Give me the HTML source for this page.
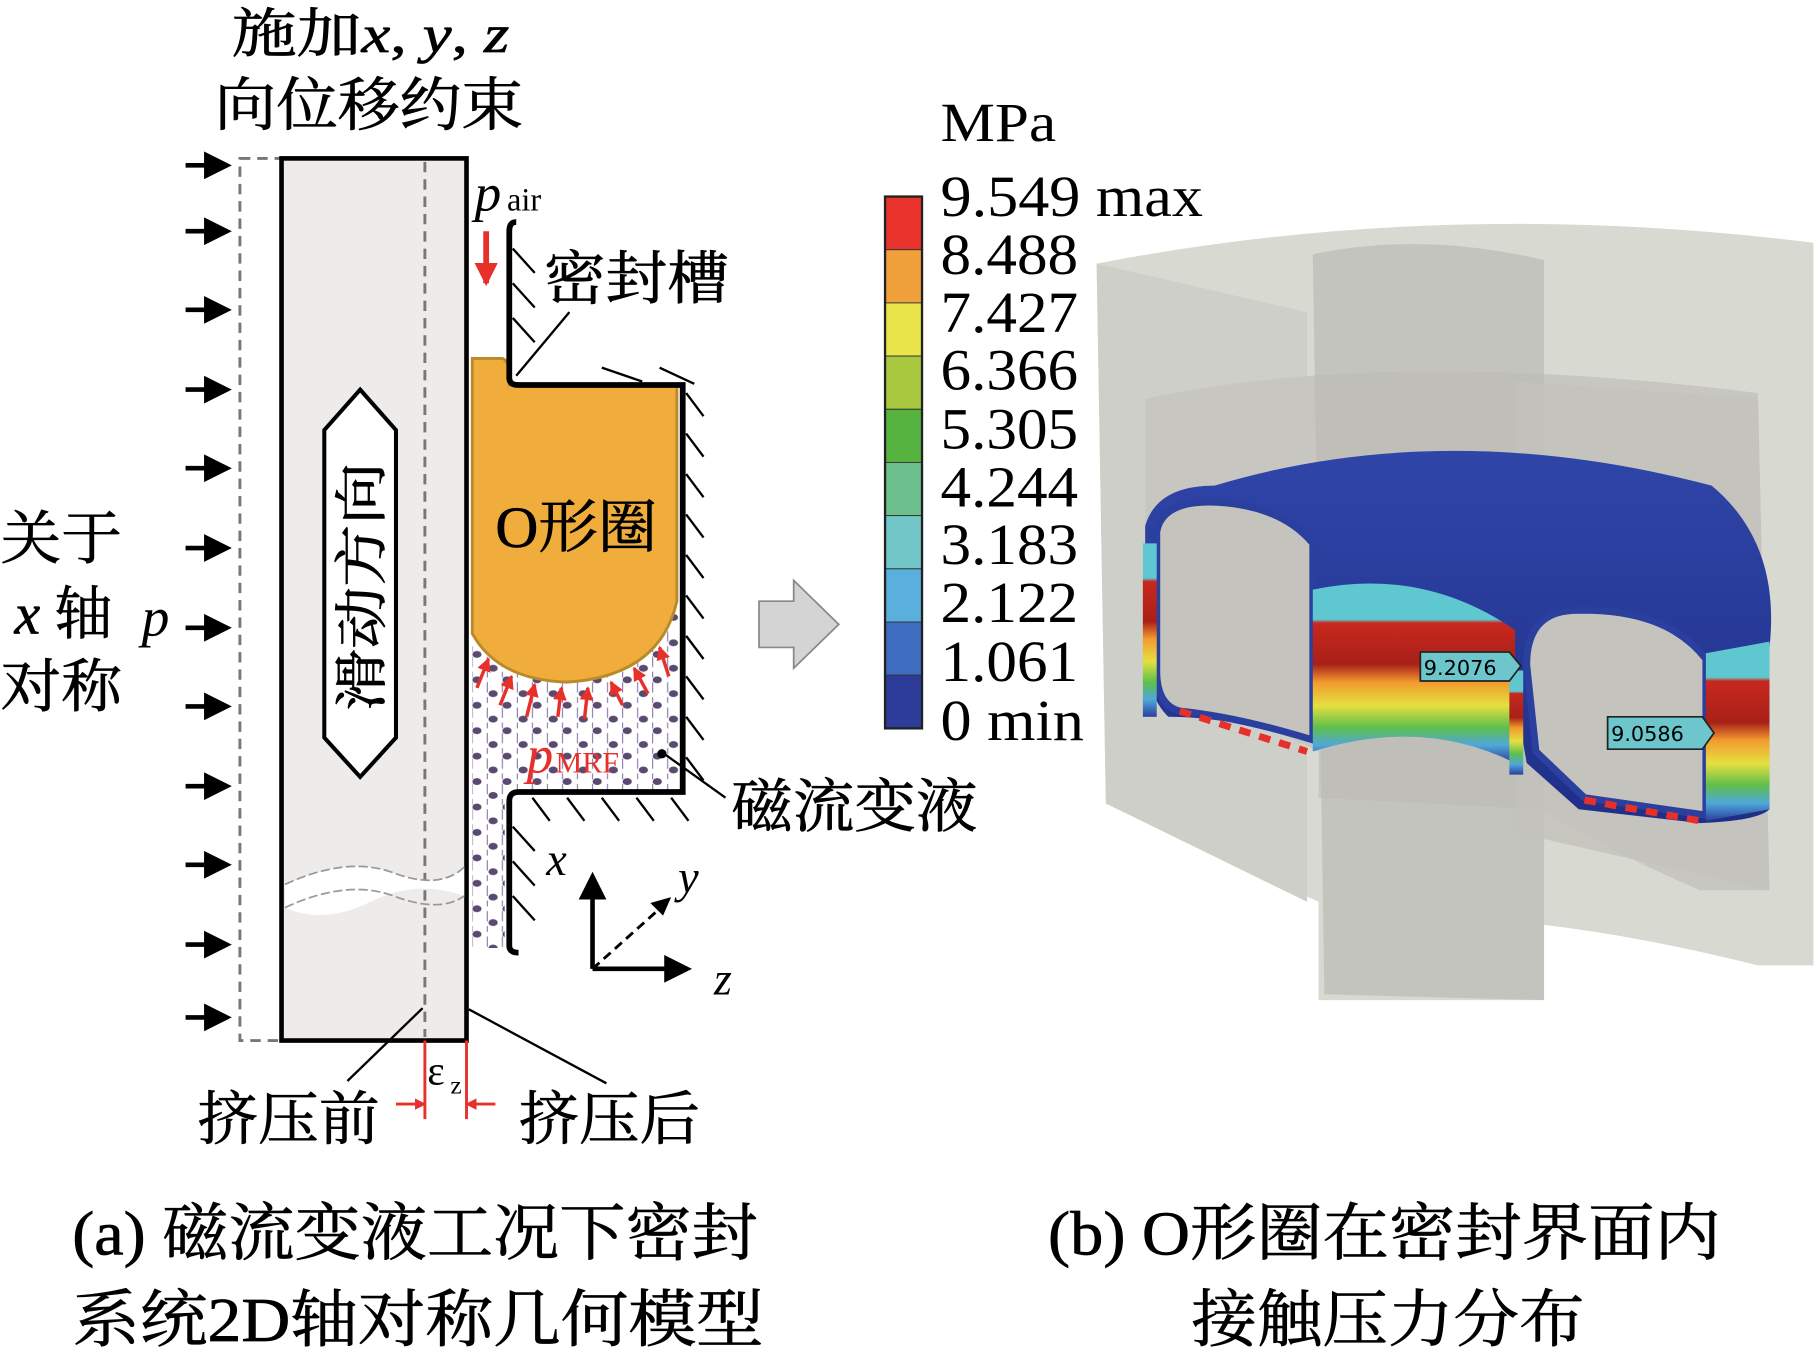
<!DOCTYPE html>
<html><head><meta charset="utf-8"><style>
html,body{margin:0;padding:0;background:#fff;}
svg{display:block}
text{font-family:"Liberation Serif","Noto Serif CJK SC","Noto Sans CJK SC",serif;fill:#000}
.b{stroke:#000;stroke-width:0.6}
</style></head><body>
<svg width="1814" height="1355" viewBox="0 0 1568 1172" xmlns="http://www.w3.org/2000/svg">
<defs>
<marker id="ah" markerWidth="6" markerHeight="6" refX="5" refY="3" orient="auto" markerUnits="strokeWidth"><path d="M0,0 L6,3 L0,6 z" fill="#000"/></marker>
<marker id="rh" markerWidth="4" markerHeight="4" refX="3.5" refY="2" orient="auto" markerUnits="strokeWidth"><path d="M0,0 L4,2 L0,4 z" fill="#e8302a"/></marker>
<pattern id="dots" width="26" height="22" patternUnits="userSpaceOnUse">
<line x1="5" y1="0" x2="5" y2="22" stroke="#8a7fb0" stroke-width="1" stroke-dasharray="5,4"/>
<line x1="18" y1="0" x2="18" y2="22" stroke="#8a7fb0" stroke-width="1" stroke-dasharray="5,4"/>
<ellipse cx="10" cy="6" rx="4" ry="3" fill="#5a4a70"/>
<ellipse cx="22" cy="16" rx="4" ry="3" fill="#5a4a70"/>
</pattern>
<linearGradient id="tor" x1="0" y1="0" x2="0" y2="1"><stop offset="0" stop-color="#2f45a8"/><stop offset="1" stop-color="#1f2f88"/></linearGradient>
<linearGradient id="band" x1="0" y1="0" x2="0" y2="1">
<stop offset="0" stop-color="#5fc7d0"/><stop offset="0.2" stop-color="#5fc7d0"/>
<stop offset="0.22" stop-color="#c8281e"/><stop offset="0.45" stop-color="#a82018"/>
<stop offset="0.55" stop-color="#f29a2e"/><stop offset="0.68" stop-color="#e5e040"/>
<stop offset="0.8" stop-color="#5fbf4a"/><stop offset="0.9" stop-color="#4fa8d8"/><stop offset="1" stop-color="#2a3f9e"/>
</linearGradient>
</defs>

<!-- Titles -->
<text x="200" y="45" font-size="46" textLength="240" lengthAdjust="spacingAndGlyphs" class="b">施加<tspan font-style="italic">x</tspan>, <tspan font-style="italic">y</tspan>, <tspan font-style="italic">z</tspan></text>
<text x="185" y="108" font-size="50" textLength="267" lengthAdjust="spacingAndGlyphs" class="b">向位移约束</text>

<!-- dashed rect & bar -->
<rect x="207" y="137" width="160" height="763" fill="none" stroke="#777" stroke-width="2.5" stroke-dasharray="9,6"/>
<rect x="243" y="137" width="160" height="763" fill="#eeeceb" stroke="#000" stroke-width="4"/>
<line x1="367" y1="140" x2="367" y2="897" stroke="#777" stroke-width="2.5" stroke-dasharray="9,6"/>
<path d="M246,765 Q300,740 340,755 T401,750 L401,775 Q360,760 320,780 T246,785 z" fill="#fff" stroke="none"/>
<path d="M246,765 Q300,740 340,755 T401,750" fill="none" stroke="#999" stroke-width="1.5" stroke-dasharray="8,3"/>
<path d="M246,785 Q300,760 340,775 T401,775" fill="none" stroke="#999" stroke-width="1.5" stroke-dasharray="8,3"/>

<!-- arrows -->
<g stroke="#000" stroke-width="4" marker-end="url(#ah)">
<line x1="160" y1="143" x2="196" y2="143"/><line x1="160" y1="200" x2="196" y2="200"/>
<line x1="160" y1="268" x2="196" y2="268"/><line x1="160" y1="337" x2="196" y2="337"/>
<line x1="160" y1="405" x2="196" y2="405"/><line x1="160" y1="474" x2="196" y2="474"/>
<line x1="160" y1="543" x2="196" y2="543"/><line x1="160" y1="611" x2="196" y2="611"/>
<line x1="160" y1="680" x2="196" y2="680"/><line x1="160" y1="748" x2="196" y2="748"/>
<line x1="160" y1="817" x2="196" y2="817"/><line x1="160" y1="880" x2="196" y2="880"/>
</g>

<!-- hexagon -->
<polygon points="311,337 342,372 342,638 311,672 280,638 280,372" fill="#fff" stroke="#000" stroke-width="3.5"/>
<text transform="translate(328,615) rotate(-90)" font-size="46" textLength="215" lengthAdjust="spacingAndGlyphs" class="b">滑动方向</text>

<!-- left labels -->
<text x="0" y="483" font-size="50" textLength="105" lengthAdjust="spacingAndGlyphs" class="b">关于</text>
<text x="12" y="548" font-size="50" class="b"><tspan font-style="italic">x</tspan> 轴</text>
<text x="0" y="611" font-size="50" textLength="105" lengthAdjust="spacingAndGlyphs" class="b">对称</text>
<text x="122" y="550" font-size="48" font-style="italic">p</text>

<!-- fluid -->
<path d="M408,555 L408,820 L436,820 L436,685 L588,685 L588,520 Q540,595 408,555 z" fill="url(#dots)"/>
<!-- O ring -->
<path d="M408,310 L434,310 Q440,312 440,325 L440,333 L585,333 L585,520 Q570,585 490,590 Q430,588 408,548 z" fill="#f0ad3c" stroke="#b88a2a" stroke-width="2.5"/>
<text x="428" y="473" font-size="50" textLength="140" lengthAdjust="spacingAndGlyphs" class="b">O形圈</text>

<!-- groove -->
<path d="M446,192 Q440,192 440,200 L440,327 Q440,333 448,333 L590,333 L590,685 L448,685 Q440,685 440,693 L440,818 Q440,824 448,824" fill="none" stroke="#000" stroke-width="5"/>
<g stroke="#000" stroke-width="2">
<line x1="443" y1="215" x2="462" y2="236"/><line x1="443" y1="245" x2="462" y2="266"/><line x1="443" y1="275" x2="462" y2="296"/>
<line x1="520" y1="318" x2="555" y2="330"/><line x1="570" y1="318" x2="600" y2="332"/>
<line x1="593" y1="340" x2="608" y2="360"/><line x1="593" y1="375" x2="608" y2="395"/><line x1="593" y1="410" x2="608" y2="430"/>
<line x1="593" y1="445" x2="608" y2="465"/><line x1="593" y1="480" x2="608" y2="500"/><line x1="593" y1="515" x2="608" y2="535"/>
<line x1="593" y1="550" x2="608" y2="570"/><line x1="593" y1="585" x2="608" y2="605"/><line x1="593" y1="620" x2="608" y2="640"/>
<line x1="593" y1="655" x2="608" y2="675"/>
<line x1="460" y1="690" x2="475" y2="710"/><line x1="490" y1="690" x2="505" y2="710"/><line x1="520" y1="690" x2="535" y2="710"/>
<line x1="550" y1="690" x2="565" y2="710"/><line x1="580" y1="690" x2="595" y2="710"/>
<line x1="443" y1="715" x2="462" y2="736"/><line x1="443" y1="745" x2="462" y2="766"/><line x1="443" y1="775" x2="462" y2="796"/>
</g>

<!-- red arrows -->
<line x1="420" y1="200" x2="420" y2="245" stroke="#e8302a" stroke-width="5" marker-end="url(#rh)"/>
<g stroke="#e8302a" stroke-width="3" marker-end="url(#rh)">
<line x1="412" y1="595" x2="422" y2="570"/><line x1="432" y1="610" x2="442" y2="585"/>
<line x1="455" y1="620" x2="462" y2="592"/><line x1="482" y1="620" x2="485" y2="595"/>
<line x1="505" y1="622" x2="508" y2="595"/><line x1="538" y1="610" x2="528" y2="590"/>
<line x1="560" y1="600" x2="548" y2="578"/><line x1="578" y1="585" x2="570" y2="560"/>
</g>
<text x="455" y="668" font-size="46" font-style="italic" style="fill:#e8302a">p</text>
<text x="480" y="668" font-size="26" style="fill:#e8302a">MRF</text>
<circle cx="572" cy="652" r="4" fill="#000"/>

<text x="410" y="182" font-size="46" font-style="italic">p</text>
<text x="438" y="182" font-size="28">air</text>
<text x="470" y="258" font-size="50" textLength="160" lengthAdjust="spacingAndGlyphs" class="b">密封槽</text>
<line x1="492" y1="270" x2="446" y2="325" stroke="#000" stroke-width="2"/>
<text x="632" y="715" font-size="50" textLength="213" lengthAdjust="spacingAndGlyphs" class="b">磁流变液</text>
<line x1="574" y1="652" x2="627" y2="690" stroke="#000" stroke-width="2"/>

<!-- axes -->
<line x1="512" y1="838" x2="512" y2="758" stroke="#000" stroke-width="4" marker-end="url(#ah)"/>
<line x1="512" y1="838" x2="594" y2="838" stroke="#000" stroke-width="4" marker-end="url(#ah)"/>
<line x1="512" y1="838" x2="570" y2="786" stroke="#000" stroke-width="2.5" stroke-dasharray="8,5"/>
<path d="M580,776 L562,781 L573,792 z" fill="#000"/>
<text x="472" y="757" font-size="40" font-style="italic">x</text>
<text x="586" y="772" font-size="40" font-style="italic">y</text>
<text x="617" y="860" font-size="40" font-style="italic">z</text>

<!-- epsilon -->
<g stroke="#e8302a" stroke-width="2.5"><line x1="367" y1="900" x2="367" y2="968"/><line x1="403" y1="900" x2="403" y2="968"/>
<line x1="342" y1="955" x2="367" y2="955" marker-end="url(#rh)"/><line x1="428" y1="955" x2="403" y2="955" marker-end="url(#rh)"/></g>
<text x="369" y="938" font-size="36">ε</text><text x="389" y="946" font-size="22">z</text>
<text x="170" y="985" font-size="50" textLength="158" lengthAdjust="spacingAndGlyphs" class="b">挤压前</text>
<text x="448" y="985" font-size="50" textLength="157" lengthAdjust="spacingAndGlyphs" class="b">挤压后</text>
<line x1="300" y1="935" x2="365" y2="872" stroke="#000" stroke-width="2"/>
<line x1="524" y1="937" x2="405" y2="873" stroke="#000" stroke-width="2"/>

<text x="62" y="1085" font-size="54" textLength="593" lengthAdjust="spacingAndGlyphs" class="b">(a) 磁流变液工况下密封</text>
<text x="62" y="1160" font-size="54" textLength="598" lengthAdjust="spacingAndGlyphs" class="b">系统2D轴对称几何模型</text>
<text x="906" y="1085" font-size="54" textLength="582" lengthAdjust="spacingAndGlyphs" class="b">(b) O形圈在密封界面内</text>
<text x="1030" y="1160" font-size="54" textLength="340" lengthAdjust="spacingAndGlyphs" class="b">接触压力分布</text>

<!-- gray arrow -->
<polygon points="656,520 686,520 686,502 725,540 686,578 686,560 656,560" fill="#d4d4d4" stroke="#888" stroke-width="1.5"/>

<!-- colorbar -->
<g stroke="#333" stroke-width="0.8">
<rect x="765" y="170" width="32" height="46" fill="#e8342c"/>
<rect x="765" y="216" width="32" height="46" fill="#f0a03a"/>
<rect x="765" y="262" width="32" height="46" fill="#e8e44a"/>
<rect x="765" y="308" width="32" height="46" fill="#a8c840"/>
<rect x="765" y="354" width="32" height="46" fill="#56b340"/>
<rect x="765" y="400" width="32" height="46" fill="#6cc08e"/>
<rect x="765" y="446" width="32" height="46" fill="#72c6c8"/>
<rect x="765" y="492" width="32" height="46" fill="#5ab0dc"/>
<rect x="765" y="538" width="32" height="46" fill="#3e6cc0"/>
<rect x="765" y="584" width="32" height="46" fill="#2c3c98"/>
</g>
<rect x="765" y="170" width="32" height="460" fill="none" stroke="#222" stroke-width="2"/>
<text x="813" y="122" font-size="48" textLength="100" lengthAdjust="spacingAndGlyphs">MPa</text>
<g font-size="50">
<text x="813" y="187" textLength="227" lengthAdjust="spacingAndGlyphs">9.549 max</text>
<text x="813" y="237" textLength="119" lengthAdjust="spacingAndGlyphs">8.488</text>
<text x="813" y="287" textLength="119" lengthAdjust="spacingAndGlyphs">7.427</text>
<text x="813" y="337" textLength="119" lengthAdjust="spacingAndGlyphs">6.366</text>
<text x="813" y="388" textLength="119" lengthAdjust="spacingAndGlyphs">5.305</text>
<text x="813" y="438" textLength="119" lengthAdjust="spacingAndGlyphs">4.244</text>
<text x="813" y="488" textLength="119" lengthAdjust="spacingAndGlyphs">3.183</text>
<text x="813" y="538" textLength="119" lengthAdjust="spacingAndGlyphs">2.122</text>
<text x="813" y="589" textLength="119" lengthAdjust="spacingAndGlyphs">1.061</text>
<text x="813" y="640" textLength="124" lengthAdjust="spacingAndGlyphs">0 min</text></g>

<!-- 3D render -->
<path d="M948,228 Q1250,170 1568,210 L1568,835 L1520,835 Q1420,810 1335,800 L1335,865 L1140,865 L1140,780 Q1040,735 956,695 z" fill="#d8d9d1"/>
<path d="M948,228 L1130,270 L1130,780 L956,695 z" fill="#cfcfca"/>
<path d="M990,345 Q1200,300 1520,340 L1530,770 L1470,770 Q1400,740 1330,700 L1140,690 L1140,650 Q1060,610 990,600 z" fill="#c7c6c0"/>
<path d="M1135,220 Q1230,200 1335,225 L1335,865 L1145,860 z" fill="#bcbbb6" opacity="0.7"/>
<path d="M1310,330 L1520,345 L1530,770 L1310,720 z" fill="#c3c2bc" opacity="0.8"/>
<!-- torus -->
<path d="M990,455 Q1000,420 1050,420 Q1250,360 1480,420 Q1540,470 1530,560 L1530,700 Q1520,710 1470,712 L1365,700 L1320,660 L1305,575 Q1300,530 1340,520 Q1390,510 1440,530 Q1480,540 1480,590 L1475,600 L1330,600 Q1240,555 1135,580 L1135,640 Q1060,620 1010,620 Q990,600 990,560 z" fill="url(#tor)"/>
<path d="M1000,460 Q1005,430 1060,435 Q1110,440 1135,470 L1135,640 Q1070,620 1020,615 Q1000,610 1000,580 z" fill="#c4c3be" stroke="#2a3f9e" stroke-width="6"/>
<path d="M1320,575 Q1320,530 1360,528 Q1440,525 1475,570 L1475,705 L1370,690 L1328,650 z" fill="#c4c3be" stroke="#2a3f9e" stroke-width="6"/>
<path d="M1135,510 Q1230,490 1310,545 L1310,660 Q1230,620 1135,650 z" fill="url(#band)"/>
<path d="M1475,565 L1530,555 L1530,700 L1475,710 z" fill="url(#band)"/>
<rect x="988" y="470" width="12" height="150" fill="url(#band)"/>
<path d="M1020,615 L1130,650" stroke="#e8302a" stroke-width="6" stroke-dasharray="10,8"/>
<path d="M1370,692 L1470,710" stroke="#e8302a" stroke-width="6" stroke-dasharray="10,8"/>
<rect x="1305" y="580" width="12" height="90" fill="url(#band)"/>
<polygon points="1228,564 1305,564 1315,576 1305,589 1228,589" fill="#6cc6cc" stroke="#222" stroke-width="1.5"/>
<text x="1231" y="584" font-size="18" style="font-family:'DejaVu Sans',sans-serif">9.2076</text>
<polygon points="1390,620 1472,620 1482,634 1472,648 1390,648" fill="#6cc6cc" stroke="#222" stroke-width="1.5"/>
<text x="1393" y="641" font-size="18" style="font-family:'DejaVu Sans',sans-serif">9.0586</text>
</svg>
</body></html>
